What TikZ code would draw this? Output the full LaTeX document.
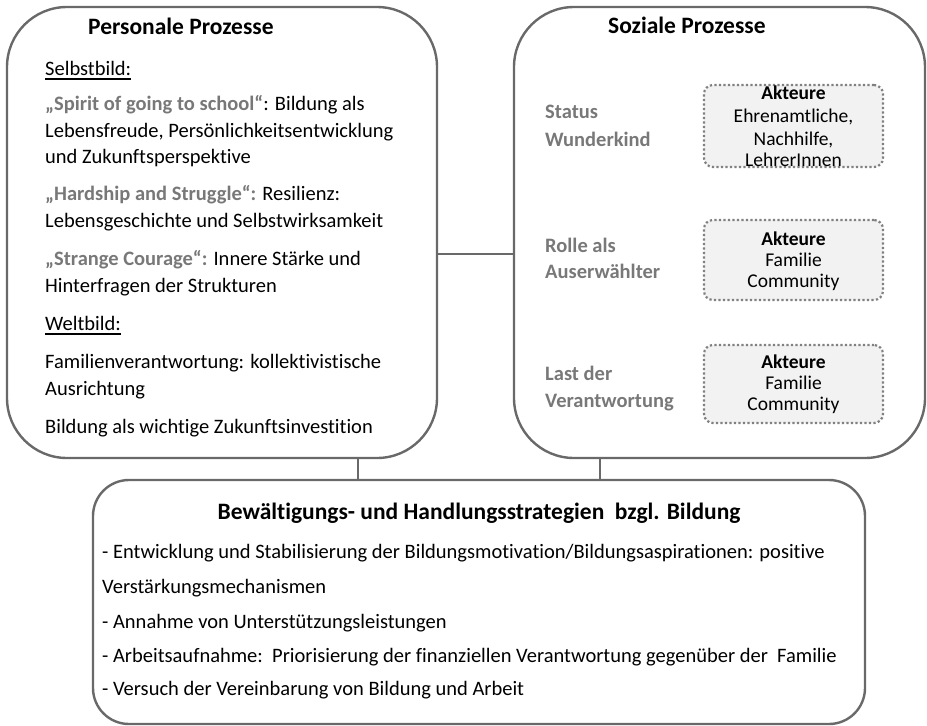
\documentclass[tikz,border=0pt]{standalone}
\usepackage{fontspec}
\setmainfont{Carlito}[Ligatures={NoCommon,TeX}]
\definecolor{edge}{RGB}{105,105,105}
\definecolor{lbl}{RGB}{120,120,120}
\definecolor{boxfill}{RGB}{242,242,242}
\definecolor{dotc}{RGB}{128,128,128}
\newcommand\bodyfs{\fontsize{20.5}{27}\selectfont}
\newcommand\titlefs{\fontsize{23.5}{28}\selectfont\bfseries}
\newcommand\akfs{\fontsize{19.5}{22}\selectfont}
\newcommand\graybf[1]{{\color{lbl}\bfseries #1}}
\begin{document}
\begin{tikzpicture}[x=1pt,y=-1pt,
  bigbox/.style={draw=edge, line width=2.4pt, rounded corners=60pt, inner sep=0pt},
  lowbox/.style={draw=edge, line width=2.4pt, rounded corners=36pt, inner sep=0pt},
  dotbox/.style={draw=dotc, fill=boxfill, line width=2.2pt, dash pattern=on 2.2pt off 2.3pt, rounded corners=9pt, inner sep=0pt},
  conn/.style={draw=edge, line width=2.4pt},
  txt/.style={inner sep=0pt, anchor=base west, font=\bodyfs},
  ttl/.style={inner sep=0pt, anchor=base west, font=\titlefs},
  lab/.style={inner sep=0pt, anchor=base west, font=\bodyfs\bfseries, text=lbl},
  ak/.style={inner sep=0pt, anchor=base, font=\akfs},
  uline/.style={line width=1.3pt, draw=black}]
\useasboundingbox (0,0) rectangle (927,726);

% big boxes
\node[bigbox, minimum width=430pt, minimum height=451pt] (L) at (222,232.5) {};
\node[bigbox, minimum width=411pt, minimum height=451pt] (R) at (719.5,232.5) {};
\node[lowbox, minimum width=772pt, minimum height=244pt] (B) at (479,602) {};

% connectors
\coordinate (hc) at (475,254);
\coordinate (v1) at (358,470);
\coordinate (v2) at (600,470);
\draw[conn] (hc -| L.east) -- (hc -| R.west);
\draw[conn] (v1 |- L.south) -- (v1 |- B.north);
\draw[conn] (v2 |- R.south) -- (v2 |- B.north);

% left box text
\node[ttl] (lt) at (88,34) {Personale Prozesse};
\node[txt] (sb) at (45,75) {Selbstbild:};
\draw[uline] ([yshift=-4pt]sb.base west) -- ([yshift=-4pt]sb.base east);
\node[txt] (l1) at (45,110) {\graybf{„Spirit of going to school“}: Bildung als};
\node[txt] (l2) at (45,137) {Lebensfreude, Persönlichkeitsentwicklung};
\node[txt] (l3) at (45,163) {und Zukunftsperspektive};
\node[txt] (l4) at (45,200) {\graybf{„Hardship and Struggle“:} Resilienz:};
\node[txt] (l5) at (45,227) {Lebensgeschichte und Selbstwirksamkeit};
\node[txt] (l6) at (45,265) {\graybf{„Strange Courage“:} Innere Stärke und};
\node[txt] (l7) at (45,292) {Hinterfragen der Strukturen};
\node[txt] (wb) at (45,330) {Weltbild:};
\draw[uline] ([yshift=-4pt]wb.base west) -- ([yshift=-4pt]wb.base east);
\node[txt] (l8) at (45,368) {Familienverantwortung: kollektivistische};
\node[txt] (l9) at (45,395) {Ausrichtung};
\node[txt] (l10) at (45,433) {Bildung als wichtige Zukunftsinvestition};

% right box text
\node[ttl] (rt) at (608,33) {Soziale Prozesse};
\node[lab] (r1) at (545,118) {Status};
\node[lab] (r2) at (545,146) {Wunderkind};
\node[lab] (r3) at (545,252) {Rolle als};
\node[lab] (r4) at (545,278) {Auserwählter};
\node[lab] (r5) at (545,380) {Last der};
\node[lab] (r6) at (545,407) {Verantwortung};

\node[dotbox, minimum width=179pt, minimum height=82pt] (d1) at (793.5,126) {};
\node[dotbox, minimum width=179pt, minimum height=80pt] (d2) at (793.5,260) {};
\node[dotbox, minimum width=179pt, minimum height=78pt] (d3) at (793.5,384) {};

\node[ak] (a1) at (793.5,99) {\bfseries Akteure};
\node[ak] (a2) at (793.5,122) {Ehrenamtliche,};
\node[ak] (a3) at (793.5,145) {Nachhilfe,};
\node[ak] (a4) at (793.5,166) {LehrerInnen};
\node[ak] (b1) at (793.5,245) {\bfseries Akteure};
\node[ak] (b2) at (793.5,266) {Familie};
\node[ak] (b3) at (793.5,287) {Community};
\node[ak] (c1) at (793.5,368) {\bfseries Akteure};
\node[ak] (c2) at (793.5,389) {Familie};
\node[ak] (c3) at (793.5,410) {Community};

% bottom box text
\node[ttl, anchor=base] (bt) at (479,519) {Bewältigungs- und Handlungsstrategien\ \ bzgl. Bildung};
\node[txt] (m1) at (102,558) {- Entwicklung und Stabilisierung der Bildungsmotivation/Bildungsaspirationen: positive};
\node[txt] (m2) at (102,593) {Verstärkungsmechanismen};
\node[txt] (m3) at (102,628) {- Annahme von Unterstützungsleistungen};
\node[txt] (m4) at (102,662) {- Arbeitsaufnahme:\ \ Priorisierung der finanziellen Verantwortung gegenüber der\ \ Familie};
\node[txt] (m5) at (102,695) {- Versuch der Vereinbarung von Bildung und Arbeit};
\end{tikzpicture}
\end{document}
